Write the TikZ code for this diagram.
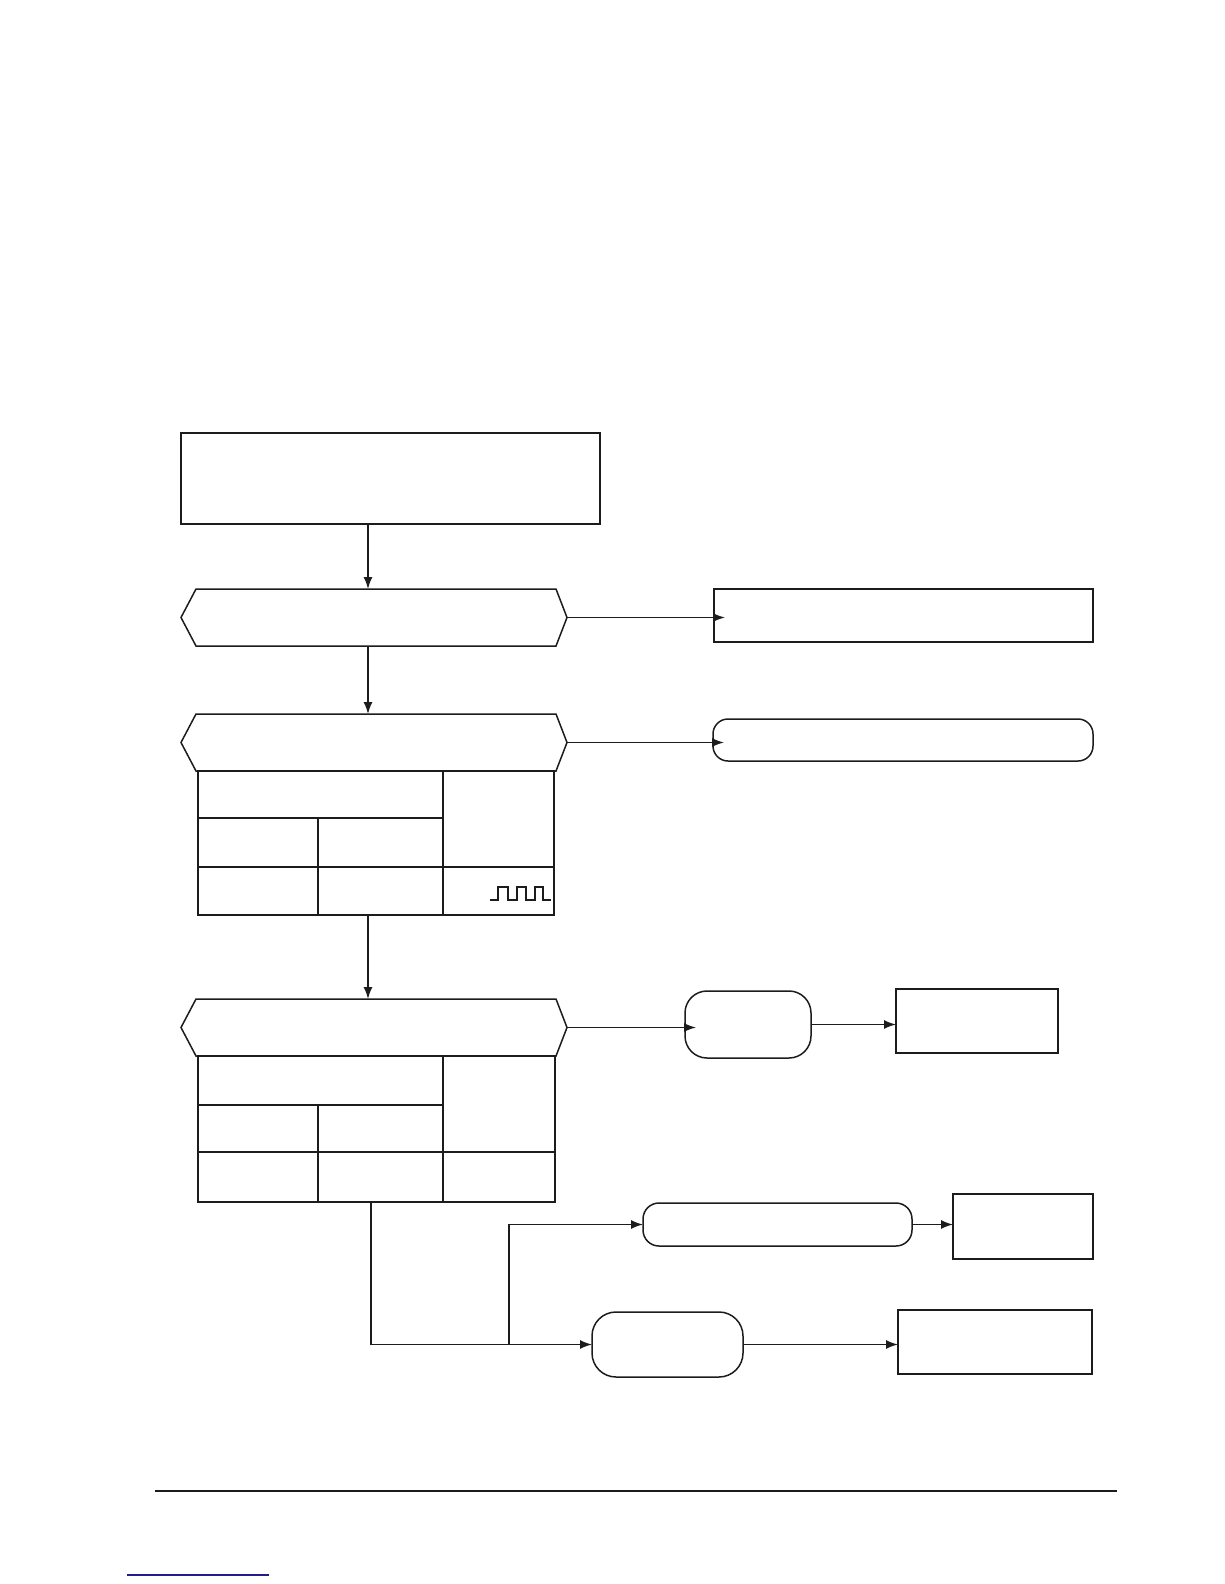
\documentclass[tikz,border=0pt]{standalone}
\usepackage{xcolor}
\usepackage{tikz}
\usetikzlibrary{
arrows.meta,
positioning,
calc
}
\definecolor{FCInk}{HTML}{1C1C1C}
\definecolor{FCLink}{HTML}{1E1E8C}
\newcommand{\hexframe}[1]{%
\draw[FCInk, line width=1.5pt] (#1.north west) -- (#1.north east) -- ([xshift=11pt]#1.east) -- (#1.south east) -- (#1.south west) -- ([xshift=-15pt]#1.west) -- cycle;}

\begin{document}
\begin{tikzpicture}[x=1pt, y=-1pt,
frame/.style={draw=FCInk, line width=1.5pt, inner sep=0pt, outer sep=0pt},
core/.style={inner sep=0pt, outer sep=0pt, minimum width=360pt, minimum height=57pt},
capsule/.style={frame, rounded corners=#1},
grid/.style={FCInk, line width=1.5pt},
flow/.style={FCInk, line width=1.5pt, -{Latex[length=12pt,width=9pt]}}]
\useasboundingbox (0,0) rectangle (1224,1584);
\node[frame, minimum width=419pt, minimum height=91pt] (start) at (390.5,478.5) {};
\node[core] (hexA) at (376,617.5) {};
\node[core] (hexB) at (376,742.5) {};
\node[frame, minimum width=356pt, minimum height=144pt] (tabA) at (376,843) {};
\node[core] (hexC) at (376,1027.5) {};
\node[frame, minimum width=357pt, minimum height=146pt] (tabB) at (376.5,1129) {};
\node[frame, minimum width=379pt, minimum height=53pt] (boxA) at (903.5,615.5) {};
\node[capsule=15pt, minimum width=380pt, minimum height=42pt] (capA) at (903,740) {};
\node[capsule=22pt, minimum width=126pt, minimum height=67pt] (capB) at (748,1024.5) {};
\node[frame, minimum width=162pt, minimum height=64pt] (boxB) at (977,1021) {};
\node[capsule=16pt, minimum width=269pt, minimum height=43pt] (capC) at (777.5,1224.5) {};
\node[frame, minimum width=140pt, minimum height=65pt] (boxC) at (1023,1226.5) {};
\node[capsule=24pt, minimum width=151pt, minimum height=65pt] (capD) at (667.5,1344.5) {};
\node[frame, minimum width=194pt, minimum height=64pt] (boxD) at (995,1342) {};
\hexframe{hexA}
\hexframe{hexB}
\hexframe{hexC}
% first table
\draw[grid] (198,818) -- (443,818);
\draw[grid] (198,867) -- (554,867);
\draw[grid] (318,818) -- (318,915);
\draw[grid] (443,771) -- (443,915);
\draw[FCInk, line width=1.3pt] (490,900) -- (498,900) -- (498,887) -- (508,887) -- (508,900) -- (517,900) -- (517,887) -- (526,887) -- (526,900) -- (535,900) -- (535,887) -- (543,887) -- (543,900) -- (551,900);
% second table
\draw[grid] (198,1105) -- (443,1105);
\draw[grid] (198,1152) -- (555,1152);
\draw[grid] (318,1105) -- (318,1202);
\draw[grid] (443,1056) -- (443,1202);
% connectors
\coordinate (spine) at (368,0);
\coordinate (leg) at (371,0);
\coordinate (fork) at (509,1344.5);
\draw[flow] (start.south -| spine) -- (hexA.north -| spine);
\draw[flow] (hexA.south -| spine) -- (hexB.north -| spine);
\draw[flow] (tabA.south -| spine) -- (hexC.north -| spine);
\draw[flow] ([xshift=11pt]hexA.east) -- ([xshift=11pt]hexA.east -| boxA.west);
\draw[flow] ([xshift=11pt]hexB.east) -- ([xshift=11pt]hexB.east -| capA.west);
\draw[flow] ([xshift=11pt]hexC.east) -- ([xshift=11pt]hexC.east -| capB.west);
\draw[flow] (capB.east) -- (capB.east -| boxB.west);
\draw[flow] (capC.east) -- (capC.east -| boxC.west);
\draw[flow] (capD.east) -- (capD.east -| boxD.west);
\draw[flow] (tabB.south -| leg) |- (capD.west);
\draw[flow] (fork) |- (capC.west);
% page rule and link
\draw[FCInk, line width=2.5pt] (155,1491) -- (1117,1491);
\draw[FCLink, line width=1.2pt] (127,1575) -- (269,1575);
\end{tikzpicture}
\end{document}
